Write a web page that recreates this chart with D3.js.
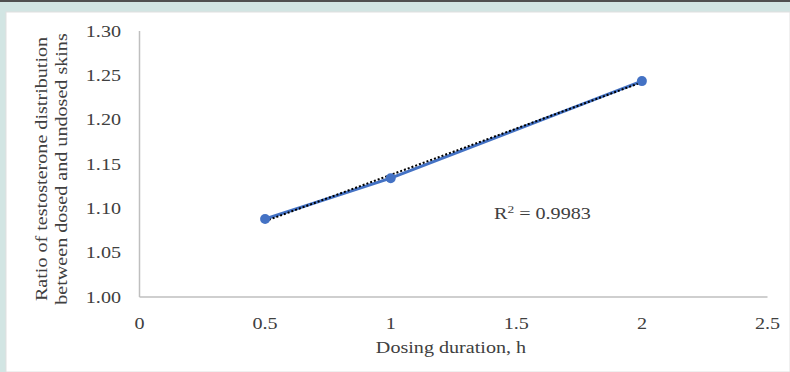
<!DOCTYPE html>
<html><head><meta charset="utf-8">
<script src="https://cdn.jsdelivr.net/npm/d3@7"></script>
<style>
html,body{margin:0;padding:0;background:#fff;}
svg{display:block;}
</style></head>
<body>
<svg id="c" width="790" height="372"></svg>
<script>
const xValues = [0.5, 1, 2];
const yValues = [1.088, 1.134, 1.2435];
const xTicks = [0, 0.5, 1, 1.5, 2, 2.5];
const yTicks = [1.00, 1.05, 1.10, 1.15, 1.20, 1.25, 1.30];
const r2Label = "0.9983";
const xTitle = "Dosing duration, h";
const yTitleLines = ["Ratio of testosterone distribution", "between dosed and undosed skins"];

const svg = d3.select("#c");
const font = "'Liberation Serif', serif";
const fs = 16.5, sx = 1.22, col = "#404040";

function label(parent, tx, ty, txt, anchor, rot){
  const gg = parent.append("g").attr("transform", `translate(${tx},${ty})` + (rot?` rotate(${rot})`:"") + ` scale(${sx},1)`);
  return gg.append("text").attr("x",0).attr("y",0).attr("text-anchor",anchor)
    .attr("font-family",font).attr("font-size",fs).attr("fill",col).text(txt);
}

// frame
svg.append("rect").attr("x",0).attr("y",0).attr("width",790).attr("height",372).attr("fill","#d2e5e3");
svg.append("rect").attr("x",0).attr("y",0).attr("width",790).attr("height",2).attr("fill","#505050");
svg.append("rect").attr("x",6).attr("y",12).attr("width",784).attr("height",360).attr("fill","#ffffff").attr("stroke","#e0e0e0").attr("stroke-width",1);

const x = d3.scaleLinear().domain([0,2.5]).range([139.5,767.5]);
const y = d3.scaleLinear().domain([1.0,1.3]).range([297,31]);

// axes
const g = svg.append("g");
g.append("line").attr("x1",x(0)).attr("x2",x(0)).attr("y1",y(1.3)).attr("y2",y(1.0)).attr("stroke","#bfbfbf").attr("stroke-width",1.5);
g.append("line").attr("x1",x(0)).attr("x2",x(2.5)).attr("y1",y(1.0)).attr("y2",y(1.0)).attr("stroke","#bfbfbf").attr("stroke-width",1.5);

yTicks.forEach(d=>label(g, 121, y(d)+5.5, d3.format(".2f")(d), "end"));
xTicks.forEach(d=>label(g, x(d), 329, String(d), "middle"));

label(g, 451, 353, xTitle, "middle");
yTitleLines.forEach((t,i)=>label(g, 47+i*20, 169, t, "middle", -90));

// data line
const pts = xValues.map((v,i)=>[v,yValues[i]]);
g.append("path").attr("d",d3.line().x(d=>x(d[0])).y(d=>y(d[1]))(pts))
  .attr("fill","none").attr("stroke","#4472c4").attr("stroke-width",3);

// linear trendline (least squares)
const mx = d3.mean(xValues), my = d3.mean(yValues);
const sxx = d3.sum(xValues,v=>(v-mx)*(v-mx));
const sxy = d3.sum(xValues.map((v,i)=>(v-mx)*(yValues[i]-my)));
const slope = sxy/sxx, icpt = my - slope*mx;
const x0 = d3.min(xValues), x1 = d3.max(xValues);
g.append("line").attr("x1",x(x0)).attr("y1",y(icpt+slope*x0)).attr("x2",x(x1)).attr("y2",y(icpt+slope*x1))
  .attr("stroke","#000").attr("stroke-width",2).attr("stroke-dasharray","2,2");

g.selectAll(".pt").data(pts).enter().append("circle")
  .attr("cx",d=>x(d[0])).attr("cy",d=>y(d[1])).attr("r",5).attr("fill","#4472c4");

const r = label(g, 494, 219, "", "start");
r.append("tspan").text("R");
r.append("tspan").attr("dy",-6).attr("font-size",11).text("2");
r.append("tspan").attr("dy",6).text(" = " + r2Label);
</script>
</body></html>
